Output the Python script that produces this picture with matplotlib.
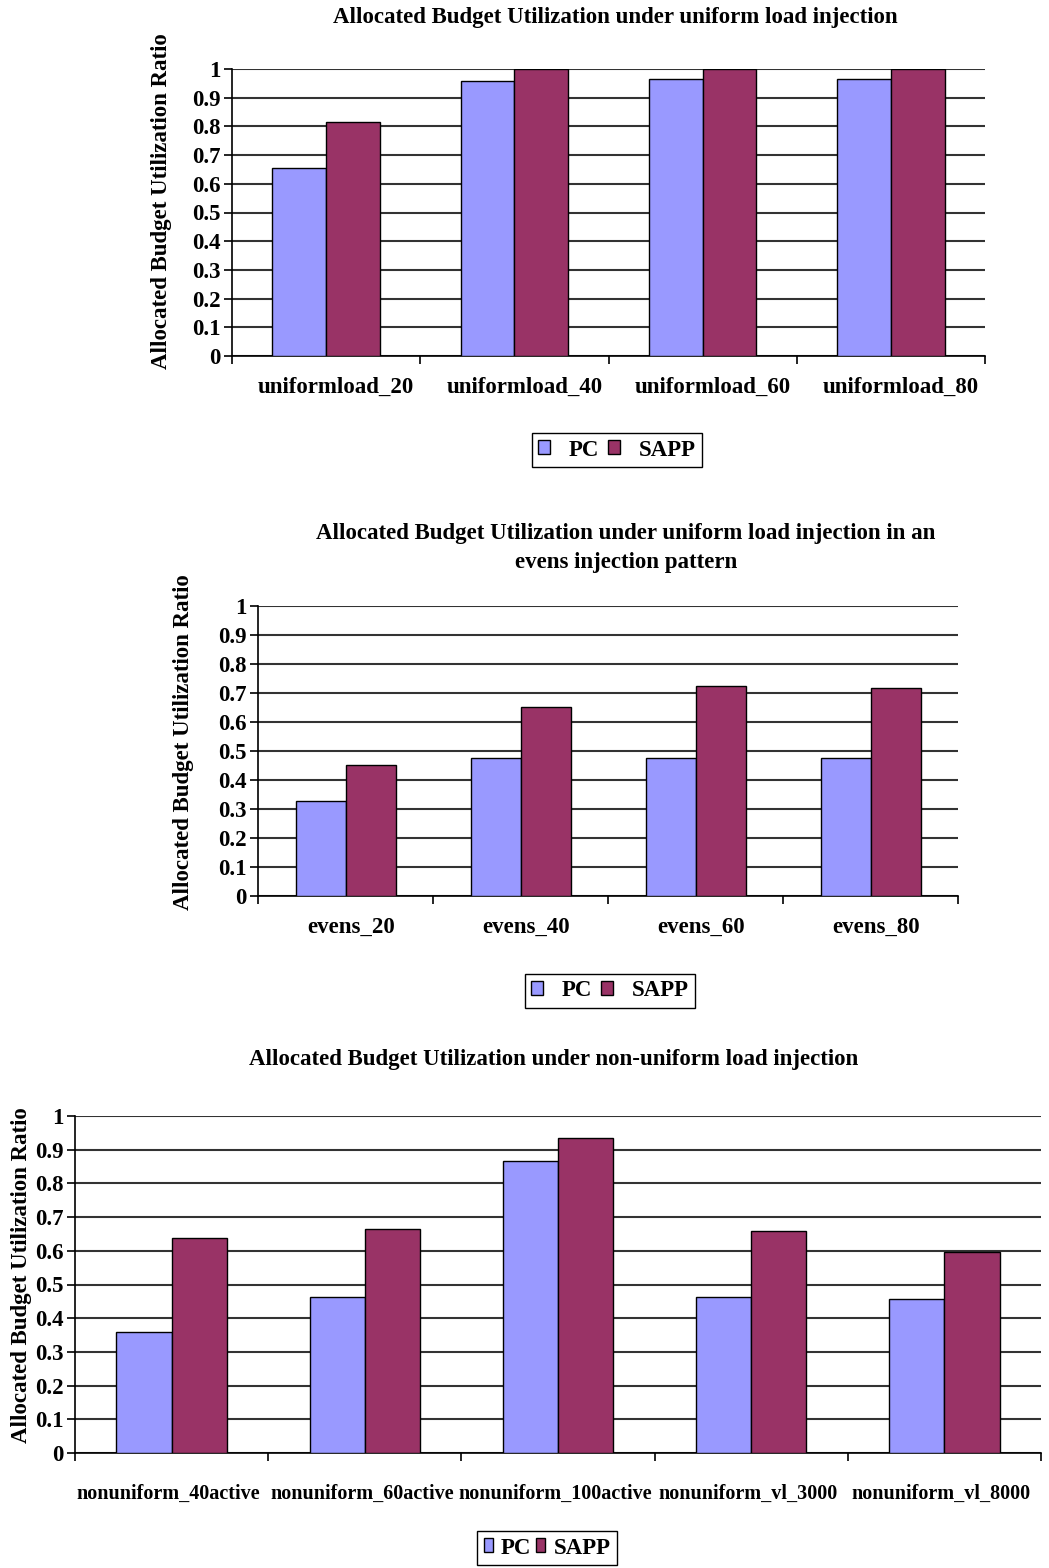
"""Allocated budget utilization: PC vs SAPP under three injection scenarios."""

import matplotlib
matplotlib.use('Agg')
import matplotlib.pyplot as plt
import matplotlib.transforms as mtransforms
from matplotlib.patches import Patch
import numpy as np

PC_COLOR = '#9999ff'
SAPP_COLOR = '#993366'
GRID = '#333333'
FONT = 'Liberation Serif'
FS = 16.5

matplotlib.rcParams.update({
    'font.family': FONT, 'font.weight': 'bold',
    'axes.edgecolor': 'black', 'axes.linewidth': 1.2,
    'xtick.color': 'black', 'ytick.color': 'black',
})

# uniform load injection
uniform_cats = ['uniformload_20', 'uniformload_40', 'uniformload_60', 'uniformload_80']
uniform_pc = [0.655, 0.958, 0.965, 0.965]
uniform_sapp = [0.815, 1.0, 1.0, 1.0]

# uniform load, evens injection pattern
evens_cats = ['evens_20', 'evens_40', 'evens_60', 'evens_80']
evens_pc = [0.328, 0.476, 0.476, 0.476]
evens_sapp = [0.453, 0.652, 0.724, 0.718]

# non-uniform load injection
nonuni_cats = ['nonuniform_40active', 'nonuniform_60active', 'nonuniform_100active',
               'nonuniform_vl_3000', 'nonuniform_vl_8000']
nonuni_pc = [0.36, 0.464, 0.865, 0.464, 0.456]
nonuni_sapp = [0.638, 0.665, 0.936, 0.659, 0.595]

Y_TICKS = np.round(np.arange(0, 1.01, 0.1), 1)
Y_LABELS = ['0' if v == 0 else ('1' if v == 1 else f'{v:.1f}') for v in Y_TICKS]
YLABEL = 'Allocated Budget Utilization Ratio'

W, H = 1049, 1568
fig = plt.figure(figsize=(W / 100, H / 100), dpi=100)
fig.patch.set_facecolor('white')


def px_axes(left, top, right, bottom):
    return fig.add_axes([left / W, 1 - bottom / H, (right - left) / W, (bottom - top) / H])


def bar_panel(ax, cats, pc, sapp, xfs, xpad, xshift=0):
    n = len(cats)
    centers = np.arange(n) + 0.5
    bw = 1 / 3.5
    ax.bar(centers - bw / 2, pc, bw, color=PC_COLOR, edgecolor='black', lw=1.0, zorder=3)
    ax.bar(centers + bw / 2, sapp, bw, color=SAPP_COLOR, edgecolor='black', lw=1.0, zorder=3)
    ax.set_xlim(0, n)
    ax.set_ylim(0, 1)
    ax.set_yticks(Y_TICKS)
    ax.set_yticklabels(Y_LABELS, fontsize=FS, fontweight='bold')
    ax.yaxis.grid(True, color=GRID, lw=1.5, zorder=0)
    ax.set_axisbelow(True)
    ax.set_xticks(np.arange(n + 1))
    ax.set_xticklabels([])
    ax.set_xticks(centers, minor=True)
    ax.set_xticklabels(cats, minor=True, fontsize=xfs, fontweight='bold')
    ax.tick_params(axis='x', which='minor', length=0, pad=xpad)
    ax.tick_params(axis='x', which='major', length=6, width=1.2, direction='out')
    ax.tick_params(axis='y', length=6, width=1.2, direction='out', pad=2)
    if xshift:
        off = mtransforms.ScaledTranslation(xshift / 100, 0, fig.dpi_scale_trans)
        for lbl in ax.get_xticklabels(minor=True):
            lbl.set_transform(lbl.get_transform() + off)
    for s in ('top', 'right'):
        ax.spines[s].set_visible(False)


def legend(x, y, hl, hh, textpad, colspace, borderpad):
    handles = [Patch(facecolor=PC_COLOR, edgecolor='black', label='PC'),
               Patch(facecolor=SAPP_COLOR, edgecolor='black', label='SAPP')]
    fig.legend(handles=handles, loc='center', bbox_to_anchor=(x / W, 1 - y / H), ncol=2,
               frameon=True, fancybox=False, edgecolor='black', framealpha=1,
               prop={'family': FONT, 'weight': 'bold', 'size': FS},
               handlelength=hl, handleheight=hh,
               handletextpad=textpad, columnspacing=colspace, borderpad=borderpad)


ax1 = px_axes(232, 69, 985, 356)
bar_panel(ax1, uniform_cats, uniform_pc, uniform_sapp, FS, 15, xshift=10)
fig.text(615 / W, 1 - 18 / H, 'Allocated Budget Utilization under uniform load injection',
         ha='center', va='center', fontsize=FS, fontweight='bold')
fig.text(162 / W, 1 - 201 / H, YLABEL, rotation=90, ha='center', va='center',
         fontsize=FS, fontweight='bold')
legend(617, 450, 0.52, 0.55, 0.8, 0.4, 0.3)

ax2 = px_axes(258, 606, 958, 896)
bar_panel(ax2, evens_cats, evens_pc, evens_sapp, FS, 15, xshift=6)
fig.text(626 / W, 1 - 548 / H,
         'Allocated Budget Utilization under uniform load injection in an\nevens injection pattern',
         ha='center', va='center', fontsize=FS, fontweight='bold', linespacing=1.45)
fig.text(183 / W, 1 - 742 / H, YLABEL, rotation=90, ha='center', va='center',
         fontsize=FS, fontweight='bold')
legend(610, 991, 0.52, 0.55, 0.8, 0.4, 0.3)

ax3 = px_axes(75, 1116, 1041, 1453)
bar_panel(ax3, nonuni_cats, nonuni_pc, nonuni_sapp, 14.5, 22, xshift=-3)
fig.text(554 / W, 1 - 1059 / H, 'Allocated Budget Utilization under non-uniform load injection',
         ha='center', va='center', fontsize=FS, fontweight='bold')
fig.text(22 / W, 1 - 1275 / H, YLABEL, rotation=90, ha='center', va='center',
         fontsize=FS, fontweight='bold')
legend(547, 1548, 0.4, 0.57, 0.35, 0.22, 0.3)

fig.savefig('out.png', dpi=100, facecolor='white')
